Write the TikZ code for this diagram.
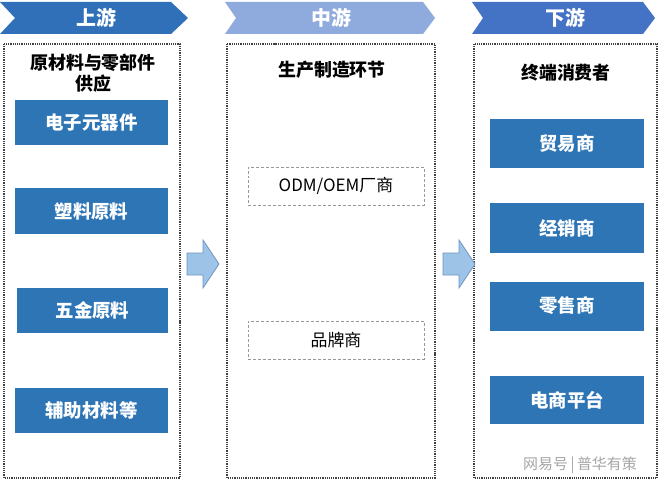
\documentclass[tikz,border=0pt]{standalone}
\usepackage{fontspec}
\setmainfont{Noto Sans CJK SC}
\usetikzlibrary{positioning}
\definecolor{upblue}{HTML}{2F70B8}
\definecolor{midblue}{HTML}{8FAADC}
\definecolor{downblue}{HTML}{4472C4}
\definecolor{boxblue}{HTML}{2E75B6}
\definecolor{arrowfill}{HTML}{9DC3E6}
\definecolor{arrowline}{HTML}{7094C6}

\begin{document}
\begin{tikzpicture}[x=1bp, y=-1bp, every node/.style={inner sep=0pt}]
\tikzset{panel/.style={draw=black!75, line width=1.2bp, densely dotted}}
\tikzset{bluebox/.style={fill=boxblue, draw=none, text=white, font=\fontsize{18.5}{22}\selectfont\bfseries, minimum height=45bp}}
\tikzset{greybox/.style={draw=black!40, densely dashed, line width=0.6bp, font=\fontsize{17}{20}\selectfont, minimum width=176bp, minimum height=38bp}}
\tikzset{head/.style={text=white, font=\fontsize{20}{24}\selectfont\bfseries}}
\tikzset{title/.style={align=center, font=\fontsize{18}{21}\selectfont\bfseries}}
\tikzset{flow/.style={fill=arrowfill, draw=arrowline, line width=0.8bp}}
\useasboundingbox (0,0) rectangle (660,483);
\fill[white] (0,0) rectangle (660,483);

% chevrons
\fill[upblue] (0,2) -- (171,2) -- (188,18) -- (171,34) -- (0,34) -- (15,18) -- cycle;
\fill[midblue] (225,2) -- (423,2) -- (435,18) -- (423,34) -- (225,34) -- (236,18) -- cycle;
\fill[downblue] (472,2) -- (643,2) -- (655,18) -- (643,34) -- (472,34) -- (483,18) -- cycle;
\node[head] (hup) at (96,18) {上游};
\node[head] (hmid) at (331,18) {中游};
\node[head] (hdown) at (565,18) {下游};

% panels
\draw[panel] (4,44) rectangle (180,478);
\draw[panel] (227,44) rectangle (435,478);
\draw[panel] (474,44) rectangle (657,478);

% upstream
\node[title] (tup) at (93,73) {原材料与零部件\\供应};
\node[bluebox, minimum width=152bp] (u1) at (91.5,123) {电子元器件};
\node[bluebox, minimum width=152bp] (u2) at (91.5,211) {塑料原料};
\node[bluebox, minimum width=151bp] (u3) at (92.5,310.5) {五金原料};
\node[bluebox, minimum width=152bp] (u4) at (91.5,410.5) {辅助材料等};

% midstream
\node[title] (tmid) at (332,70) {生产制造环节};
\node[greybox] (m1) at (336,186) {ODM/OEM厂商};
\node[greybox] (m2) at (336,340) {品牌商};

% downstream
\node[title] (tdown) at (566,73) {终端消费者};
\node[bluebox, minimum width=154bp, minimum height=49bp] (d1) at (567,144) {贸易商};
\node[bluebox, minimum width=154bp, minimum height=49bp] (d2) at (567,228) {经销商};
\node[bluebox, minimum width=154bp, minimum height=49bp] (d3) at (567,306) {零售商};
\node[bluebox, minimum width=154bp, minimum height=48bp] (d4) at (567,400) {电商平台};

% flow arrows
\draw[flow] (187,253) -- (203,253) -- (203,240) -- (219,264) -- (203,288) -- (203,275) -- (187,275) -- cycle;
\draw[flow] (443,253) -- (459,253) -- (459,240) -- (475,264) -- (459,288) -- (459,275) -- (443,275) -- cycle;

% watermark
\node[text=black!35, font=\fontsize{15}{17}\selectfont] (wm) at (580,465) {网易号\,\textbar\,普华有策};
\end{tikzpicture}
\end{document}
